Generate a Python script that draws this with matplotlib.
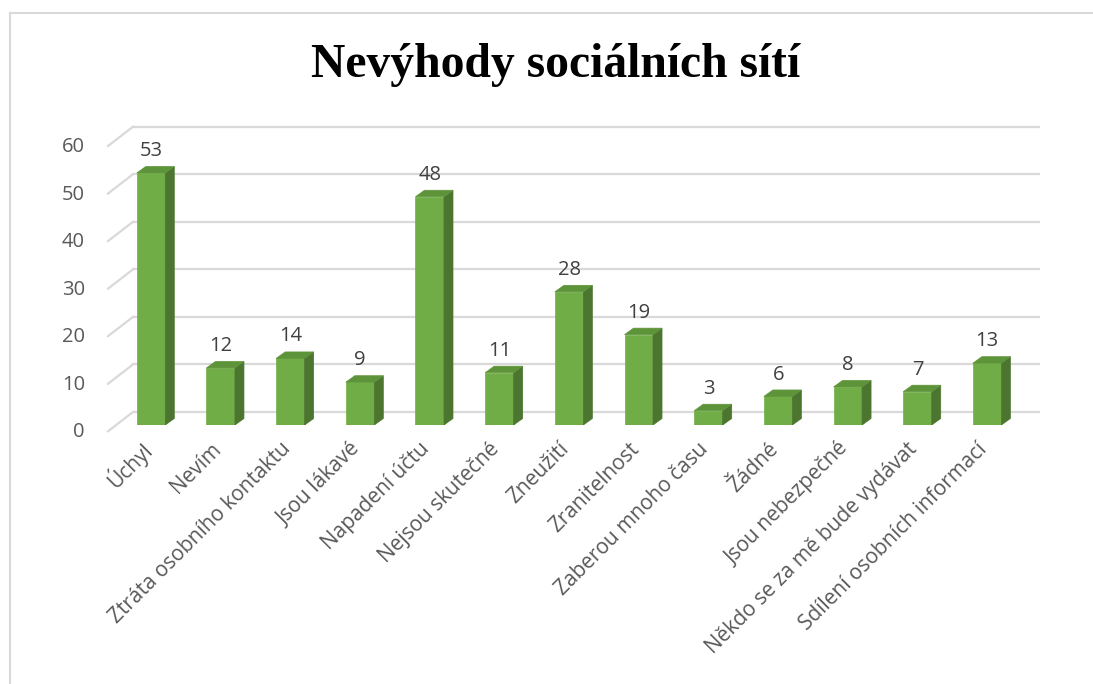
import matplotlib
matplotlib.use("Agg")
import matplotlib.pyplot as plt
from matplotlib.patches import Polygon
from matplotlib.lines import Line2D
from matplotlib.transforms import offset_copy

categories = ["Úchyl", "Nevím", "Ztráta osobního kontaktu", "Jsou lákavé",
              "Napadení účtu", "Nejsou skutečné", "Zneužití", "Zranitelnost",
              "Zaberou mnoho času", "Žádné", "Jsou nebezpečné",
              "Někdo se za mě bude vydávat", "Sdílení osobních informací"]
values = [53, 12, 14, 9, 48, 11, 28, 19, 3, 6, 8, 7, 13]
yticks = [0, 10, 20, 30, 40, 50, 60]
title = "Nevýhody sociálních sítí"

W, H = 1093, 684
fig = plt.figure(figsize=(W / 100, H / 100), dpi=100)
fig.patch.set_facecolor("white")

# axes = front plane of the bars
x0, x1 = 116.2, 1022.0
y0, y1 = 425.0, 139.7
ax = fig.add_axes([x0 / W, 1 - y0 / H, (x1 - x0) / W, (y0 - y1) / H])
n = len(categories)
ax.set_xlim(-0.5, n - 0.5)
ax.set_ylim(0, 60)
ax.axis("off")

px_cat = (x1 - x0) / n          # pixels per category
px_val = (y0 - y1) / 60.0       # pixels per unit

# offsets (in data units)
back_dx, back_dy = 16.8 / px_cat, 13.0 / px_val
wall_dx, wall_dy = -8.2 / px_cat, -6.3 / px_val
bar_w = 28.5 / px_cat
dep_dx, dep_dy = 9.0 / px_cat, 6.5 / px_val

grid_c = "#D9D9D9"
for v in yticks:
    ax.add_line(Line2D([-0.5 + back_dx, n - 0.5 + back_dx], [v + back_dy, v + back_dy],
                       color=grid_c, lw=1.6, clip_on=False, zorder=1))
    ax.add_line(Line2D([-0.5 + wall_dx, -0.5 + back_dx], [v + wall_dy, v + back_dy],
                       color=grid_c, lw=1.6, clip_on=False, zorder=1))
    t = offset_copy(ax.transData, fig=fig, x=-23, y=-1, units="dots")
    ax.text(-0.5 + wall_dx, v + wall_dy, str(v), transform=t, ha="right", va="center",
            fontsize=14.5, color="#595959", family="Open Sans")

front_c, side_c, top_c = "#70AD47", "#4C7630", "#5E9439"
for i, v in enumerate(values):
    l, r = i - bar_w / 2, i + bar_w / 2
    ax.add_patch(Polygon([(l, 0), (r, 0), (r, v), (l, v)], closed=True,
                         facecolor=front_c, edgecolor=front_c, lw=0.5, zorder=3))
    ax.add_patch(Polygon([(r, 0), (r + dep_dx, dep_dy), (r + dep_dx, v + dep_dy), (r, v)],
                         closed=True, facecolor=side_c, edgecolor=side_c, lw=0.5, zorder=3))
    ax.add_patch(Polygon([(l, v), (r, v), (r + dep_dx, v + dep_dy), (l + dep_dx, v + dep_dy)],
                         closed=True, facecolor=top_c, edgecolor=top_c, lw=0.5, zorder=3))
    ax.annotate(str(v), (i, v), xytext=(0, 12.2), textcoords="offset points",
                ha="center", va="baseline", fontsize=14.5, color="#404040",
                family="Open Sans", annotation_clip=False)
    t = offset_copy(ax.transData, fig=fig, x=-3, y=-21, units="dots")
    ax.text(i, 0, categories[i], transform=t, ha="right", va="center", rotation=45,
            rotation_mode="anchor", fontsize=15, color="#595959", family="Open Sans")

fig.text(556 / W, 1 - 77 / H, title, ha="center", va="baseline", fontsize=34.3,
         fontweight="bold", family="Liberation Serif", color="black")

fig.add_artist(Line2D([10 / W, 10 / W], [0, 1 - 12.5 / H], transform=fig.transFigure,
                      color="#D9D9D9", lw=1.5))
fig.add_artist(Line2D([10 / W, 1.0], [1 - 12.5 / H, 1 - 12.5 / H], transform=fig.transFigure,
                      color="#D9D9D9", lw=1.5))

fig.savefig("out.png", dpi=100, facecolor="white")
